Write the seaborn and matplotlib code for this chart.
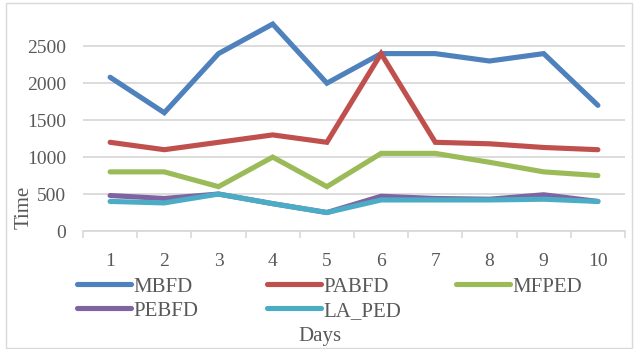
import matplotlib
matplotlib.use("Agg")
import matplotlib.pyplot as plt
from matplotlib.patches import Rectangle
from matplotlib.lines import Line2D
import numpy as np
import pandas as pd
import seaborn as sns

days = [1, 2, 3, 4, 5, 6, 7, 8, 9, 10]
mbfd = [2080, 1600, 2400, 2800, 2000, 2400, 2400, 2300, 2400, 1700]
pabfd = [1200, 1100, 1200, 1300, 1200, 2400, 1200, 1180, 1130, 1100]
mfped = [800, 800, 600, 1000, 600, 1050, 1050, 930, 800, 750]
pebfd = [480, 440, 500, 370, 250, 470, 440, 430, 490, 400]
la_ped = [400, 380, 500, 370, 250, 420, 420, 420, 430, 400]
series_names = ["MBFD", "PABFD", "MFPED", "PEBFD", "LA_PED"]
colors = ["#4F81BD", "#C0504D", "#9BBB59", "#8064A2", "#4BACC6"]
y_ticks = [0, 500, 1000, 1500, 2000, 2500]

df = pd.DataFrame({
    "Days": days * 5,
    "Time": mbfd + pabfd + mfped + pebfd + la_ped,
    "Series": [n for n in series_names for _ in days],
})

sns.set_theme(style="white")
plt.rcParams["font.family"] = ["Liberation Serif", "DejaVu Serif"]
text_color = "#595959"
grid_color = "#D9D9D9"
fs_tick = 14
fs_text = 15

W, H = 634, 349
fig = plt.figure(figsize=(W / 100, H / 100), dpi=100)
ax = fig.add_axes([83 / W, 1 - 231 / H, (625 - 83) / W, (231 - 10) / H])

sns.lineplot(data=df, x="Days", y="Time", hue="Series", hue_order=series_names,
             palette=colors, linewidth=3.7, ax=ax, legend=False,
             solid_capstyle="round", solid_joinstyle="miter")

ax.set_xlim(0.5, 10.5)
ax.set_ylim(0, 2990)
ax.set_yticks(y_ticks)
ax.set_yticklabels([str(v) for v in y_ticks])
ax.set_xticks(days)
ax.set_xticklabels([str(d) for d in days])
ax.set_xticks(np.arange(0.5, 11, 1.0), minor=True)
ax.tick_params(axis="x", which="major", length=0, pad=16, labelsize=fs_tick, colors=text_color)
ax.tick_params(axis="x", which="minor", length=5, width=1.2, color=grid_color, bottom=True)
ax.tick_params(axis="y", length=0, pad=12, labelsize=fs_tick, colors=text_color)
ax.yaxis.grid(True, color=grid_color, linewidth=1.3)
ax.set_axisbelow(True)
for s in ["left", "right", "top"]:
    ax.spines[s].set_visible(False)
ax.spines["bottom"].set_color(grid_color)
ax.spines["bottom"].set_linewidth(1.3)
ax.set_xlabel("")
ax.set_ylabel("")

fig.text(24 / W, 1 - 207 / H, "Time", rotation=90, ha="center", va="center",
         fontsize=fs_text, color=text_color)
fig.text(320 / W, 1 - 336 / H, "Days", ha="center", va="center",
         fontsize=fs_text, color=text_color)

# legend: three columns placed at fixed horizontal positions
columns = [[0, 3], [1, 4], [2]]
col_x = [77, 267, 456]
for idxs, cx in zip(columns, col_x):
    handles = [Line2D([], [], color=colors[i], linewidth=3.7, solid_capstyle="round")
               for i in idxs]
    labels = [series_names[i] for i in idxs]
    leg = fig.legend(handles, labels, loc="upper left",
                     bbox_to_anchor=(cx / W, 1 - 277 / H), frameon=False,
                     borderpad=0, borderaxespad=0, handlelength=2.6,
                     handletextpad=0.12, labelspacing=0.22,
                     prop={"size": fs_text, "family": "Liberation Serif"})
    for t in leg.get_texts():
        t.set_color(text_color)

fig.add_artist(Rectangle((6 / W, 1 - 348 / H), (632 - 6) / W, (348 - 3) / H,
                         transform=fig.transFigure, fill=False,
                         edgecolor=grid_color, linewidth=1.0))

fig.savefig("out.png", dpi=100)
